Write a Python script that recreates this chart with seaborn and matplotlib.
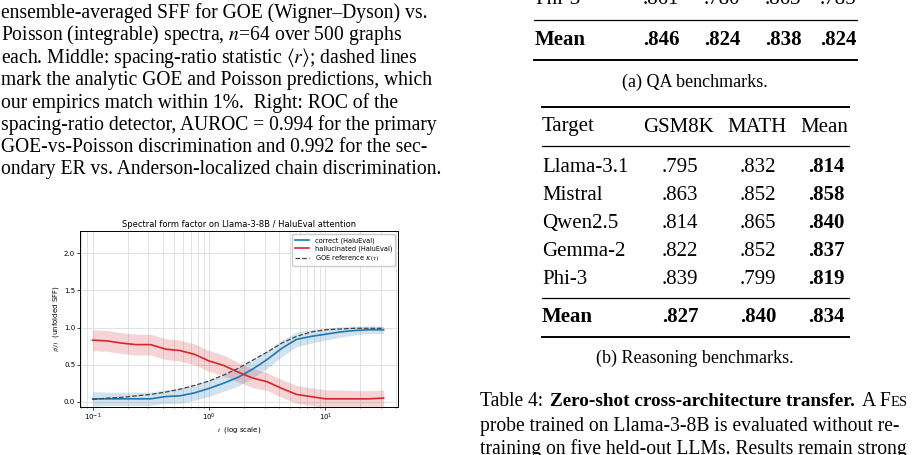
import numpy as np
import pandas as pd
import matplotlib
matplotlib.use("Agg")
import matplotlib.pyplot as plt
import seaborn as sns

# chart data
log_tau = [-1, -0.875, -0.75, -0.625, -0.5, -0.375, -0.25, -0.125, 0, 0.125, 0.25,
           0.375, 0.5, 0.625, 0.75, 0.875, 1.0, 1.125, 1.25, 1.375, 1.5]
correct = [.04, .04, .04, .04, .04, .07, .08, .12, .18, .25, .33, .44, .57, .72, .84,
           .88, .91, .94, .96, .97, .97]
correct_sd = [.10, .09, .09, .09, .09, .09, .10, .10, .11, .11, .12, .12, .12, .11, .10,
              .09, .08, .07, .06, .05, .05]
halluc = [.83, .82, .79, .77, .77, .71, .69, .64, .55, .49, .40, .32, .27, .18, .10,
          .07, .04, .04, .04, .04, .05]
halluc_sd = [.14, .14, .14, .14, .14, .14, .14, .14, .14, .14, .13, .13, .12, .12, .12,
             .12, .12, .12, .11, .11, .11]
goe = [.03, .05, .06, .08, .10, .13, .17, .22, .28, .36, .45, .56, .67, .79, .88, .94,
       .97, .98, .99, .99, .99]

# table data
qa_phi3 = [".861", ".780", ".863", ".785"]
qa_mean = [".846", ".824", ".838", ".824"]
reason_targets = ["Llama-3.1", "Mistral", "Qwen2.5", "Gemma-2", "Phi-3"]
gsm8k = [".795", ".863", ".814", ".822", ".839"]
math_ = [".832", ".852", ".865", ".852", ".799"]
row_mean = [".814", ".858", ".840", ".837", ".819"]
col_mean = [".827", ".840", ".834"]

body = [
    "ensemble-averaged SFF for GOE (Wigner–Dyson) vs.",
    r"Poisson (integrable) spectra, $n$=64 over 500 graphs",
    r"each. Middle: spacing-ratio statistic $\langle r\rangle$; dashed lines",
    "mark the analytic GOE and Poisson predictions, which",
    "our empirics match within 1%.  Right: ROC of the",
    "spacing-ratio detector, AUROC = 0.994 for the primary",
    "GOE-vs-Poisson discrimination and 0.992 for the sec-",
    "ondary ER vs. Anderson-localized chain discrimination.",
]

W, H = 923, 455
fig = plt.figure(figsize=(W / 100, H / 100), dpi=100)
serif = "Liberation Serif"
plt.rcParams["mathtext.fontset"] = "stix"
FS = 14.1

def t(x, y, s, size=FS, **kw):
    fig.text(x / W, 1 - y / H, s, fontsize=size, family=serif, va="center", **kw)

for i, line in enumerate(body):
    t(1, 13 + i * 22.4, line)

# tables
def rule(x0, x1, y, lw=1.4):
    fig.add_artist(plt.Line2D([x0 / W, x1 / W], [1 - y / H, 1 - y / H], color="black", lw=lw))

TS = 15
qa_x = [661, 722, 783, 838]
t(535, -1, "Phi-3", size=TS)
for x, v in zip(qa_x, qa_phi3):
    t(x, -1, v, size=TS, ha="center")
rule(534, 857, 20, 0.9)
t(535, 40, "Mean", size=TS, weight="bold")
for x, v in zip(qa_x, qa_mean):
    t(x, 40, v, size=TS, ha="center", weight="bold")
rule(534, 857, 60)
t(695, 82, "(a) QA benchmarks.", size=13, ha="center")

rule(542, 849, 107)
t(542, 127, "Target", size=TS)
t(643, 127, "GSM8K", size=TS)
t(727, 127, "MATH", size=TS)
t(800, 127, "Mean", size=TS)
rule(542, 849, 146, 0.9)
for i, name in enumerate(reason_targets):
    y = 167 + i * 28
    t(542, y, name, size=TS)
    t(680, y, gsm8k[i], size=TS, ha="center")
    t(758, y, math_[i], size=TS, ha="center")
    t(826, y, row_mean[i], size=TS, ha="center", weight="bold")
rule(542, 849, 298, 0.9)
t(542, 317, "Mean", size=TS, weight="bold")
for x, v in zip([680, 758, 826], col_mean):
    t(x, 317, v, size=TS, ha="center", weight="bold")
rule(542, 849, 337)
t(695, 358, "(b) Reasoning benchmarks.", size=13, ha="center")

t(480, 402, "Table 4:")
t(550, 402, "Zero-shot cross-architecture transfer.", weight="bold", size=13.8)
t(862, 402, "A F")
t(891, 403, "ES", size=10.5)
t(480, 426, "probe trained on Llama-3-8B is evaluated without re-")
t(480, 449, "training on five held-out LLMs. Results remain strong")

# chart
df = pd.DataFrame({"tau": 10 ** np.array(log_tau), "correct": correct, "halluc": halluc,
                   "goe": goe, "csd": correct_sd, "hsd": halluc_sd})
ax = fig.add_axes([80 / W, 48 / H, 318 / W, 176 / H])
blue, red = "#1f77b4", "#d62728"
ax.fill_between(df["tau"], df["correct"] - df["csd"], df["correct"] + df["csd"], color=blue, alpha=0.2, lw=0)
ax.fill_between(df["tau"], df["halluc"] - df["hsd"], df["halluc"] + df["hsd"], color=red, alpha=0.2, lw=0)
sns.lineplot(data=df, x="tau", y="correct", ax=ax, color=blue, lw=1.2, label="correct (HaluEval)")
sns.lineplot(data=df, x="tau", y="halluc", ax=ax, color=red, lw=1.2, label="hallucinated (HaluEval)")
sns.lineplot(data=df, x="tau", y="goe", ax=ax, color="#444444", lw=0.9, ls="--",
             label=r"GOE reference $K(\tau)$")
ax.set_xscale("log")
ax.set_xlim(0.078, 42)
ax.set_ylim(-0.07, 2.3)
ax.set_yticks([0, 0.5, 1.0, 1.5, 2.0])
ax.grid(True, which="both", color="#dddddd", lw=0.6)
ax.set_axisbelow(True)
ax.tick_params(labelsize=5, length=2, width=0.5, pad=1.5)
ax.tick_params(which="minor", length=1, width=0.4)
for s in ax.spines.values():
    s.set_linewidth(0.7)
ax.set_xlabel(r"$t$  (log scale)", fontsize=5, labelpad=1.5)
ax.set_ylabel(r"$g(t)$  (unfolded SFF)", fontsize=5, labelpad=2)
ax.set_title("Spectral form factor on Llama-3-8B / HaluEval attention", fontsize=6, pad=3)
ax.legend(loc="upper right", fontsize=4.8, frameon=True, handlelength=2.2, borderpad=0.4,
          labelspacing=0.3, framealpha=1, edgecolor="#cccccc")

fig.savefig("out.png", dpi=100)
